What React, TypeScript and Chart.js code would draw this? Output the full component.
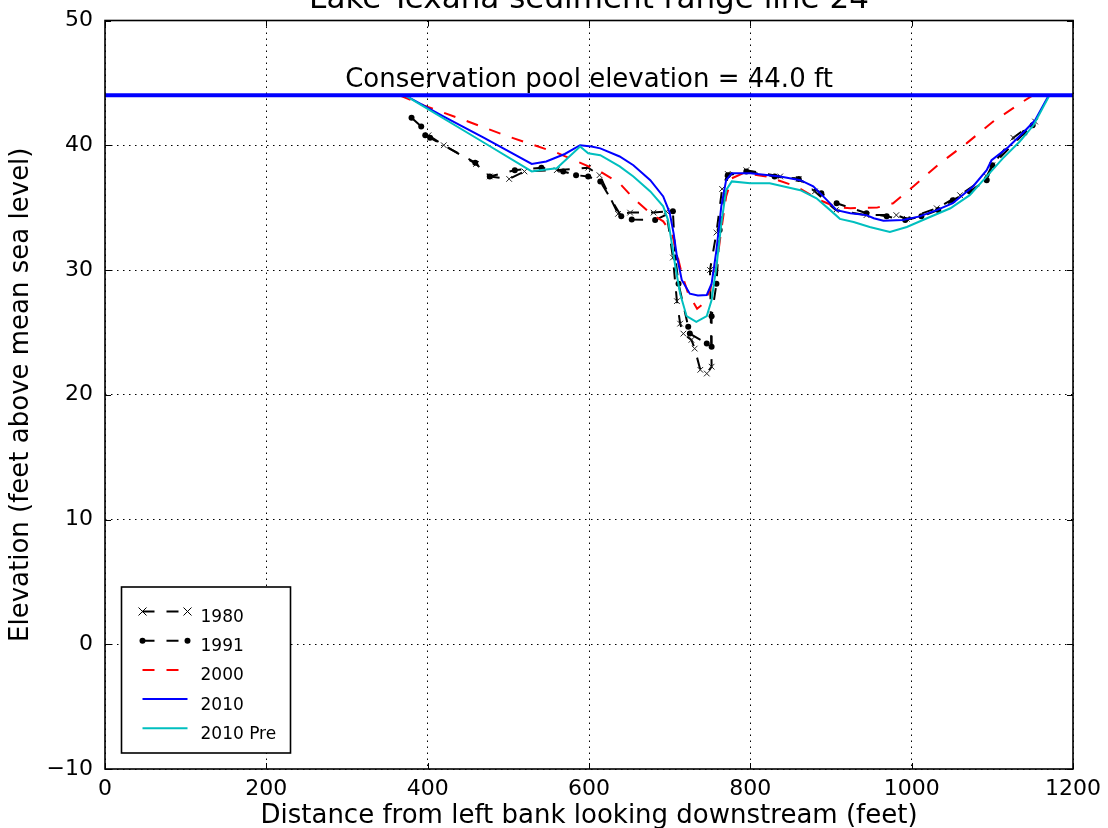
import React, { useEffect, useRef } from 'react';
import { Chart, registerables } from 'chart.js';

Chart.register(...registerables);

const FONT = "'DejaVu Sans', 'Liberation Sans', sans-serif";

const chartTitle = 'Lake Texana sediment range line 24';
const xAxisTitle = 'Distance from left bank looking downstream (feet)';
const yAxisTitle = 'Elevation (feet above mean sea level)';
const poolElevation = 44.0;
const poolLabel = `Conservation pool elevation = ${poolElevation.toFixed(1)} ft`;
const poolX = [0, 1200];

const xMin = 0;
const xMax = 1200;
const xStep = 200;
const yMin = -10;
const yMax = 50;
const yStep = 10;

const seriesLabels = ['1980', '1991', '2000', '2010', '2010 Pre'];

const x1980 = [401, 420, 460, 477, 501, 520, 560, 599, 613, 636, 651, 680, 696, 704, 709, 713, 717, 727, 731, 738, 746, 752, 750, 758, 765, 772, 795, 837, 860, 880, 906, 944, 981, 994, 1031, 1060, 1093, 1100, 1126, 1153];
const y1980 = [40.8, 40.0, 38.5, 37.5, 37.3, 37.9, 38.0, 38.2, 37.6, 34.5, 34.6, 34.6, 34.7, 31.0, 27.5, 25.7, 24.9, 24.4, 23.7, 22.0, 21.7, 22.25, 30.0, 33.0, 36.5, 37.7, 38.0, 37.5, 37.3, 36.3, 34.8, 34.4, 34.4, 34.1, 34.95, 36.0, 37.5, 38.4, 40.6, 41.9];

const x1991 = [380, 392, 397, 403, 459, 477, 508, 541, 568, 584, 599, 614, 640, 653, 682, 704, 707, 711, 723, 725, 746, 752, 752, 758, 762, 772, 795, 830, 860, 888, 907, 944, 969, 992, 1012, 1033, 1051, 1072, 1093, 1100, 1140, 1150];
const y1991 = [42.2, 41.5, 40.8, 40.6, 38.6, 37.5, 38.0, 38.2, 37.9, 37.6, 37.5, 37.1, 34.3, 34.05, 34.0, 34.7, 31.0, 28.9, 25.45, 24.9, 24.1, 23.85, 26.3, 28.9, 33.2, 37.6, 37.9, 37.5, 37.3, 36.15, 35.35, 34.55, 34.3, 34.0, 34.3, 34.8, 35.6, 36.3, 37.2, 38.4, 41.0, 41.6];

const x2000 = [365, 395, 450, 500, 560, 614, 638, 655, 676, 692, 703, 709, 715, 723, 734, 742, 750, 758, 764, 770, 777, 791, 820, 857, 886, 907, 924, 957, 977, 1002, 1035, 1068, 1101, 1138, 1150];
const y2000 = [44.0, 43.2, 41.9, 40.7, 39.4, 37.9, 36.95, 35.75, 34.55, 33.9, 32.9, 31.3, 29.7, 28.1, 26.9, 27.3, 28.4, 30.3, 33.2, 35.9, 37.35, 37.75, 37.5, 36.7, 35.6, 35.05, 34.95, 35.0, 35.35, 36.7, 38.55, 40.15, 41.9, 43.5, 44.0];

const x2010 = [372, 420, 470, 529, 547, 570, 589, 603, 614, 638, 655, 676, 692, 700, 705, 709, 715, 725, 735, 746, 752, 758, 764, 770, 777, 800, 837, 862, 878, 895, 907, 924, 944, 953, 965, 989, 1010, 1031, 1051, 1076, 1093, 1099, 1118, 1138, 1153, 1170];
const y2010 = [44.0, 42.3, 40.6, 38.5, 38.7, 39.3, 40.0, 39.9, 39.75, 39.1, 38.4, 37.2, 35.9, 34.6, 32.9, 31.1, 29.2, 28.1, 27.95, 28.0, 28.9, 31.6, 35.1, 37.2, 37.75, 37.75, 37.5, 37.2, 36.7, 35.6, 34.8, 34.55, 34.4, 34.15, 33.95, 34.0, 34.3, 34.8, 35.35, 36.7, 38.0, 38.8, 39.75, 41.0, 42.0, 44.0];

const x2010Pre = [372, 470, 529, 539, 560, 589, 599, 614, 638, 655, 676, 692, 698, 702, 707, 713, 721, 733, 746, 752, 758, 764, 770, 777, 800, 824, 862, 882, 899, 911, 928, 948, 973, 994, 1019, 1048, 1072, 1093, 1113, 1134, 1151, 1170];
const y2010Pre = [44.0, 40.2, 37.9, 38.0, 38.15, 39.9, 39.35, 39.2, 38.3, 37.5, 36.3, 35.1, 34.0, 32.4, 30.3, 28.1, 26.3, 25.85, 26.3, 27.6, 30.3, 33.7, 36.4, 37.1, 36.95, 36.95, 36.4, 35.75, 34.8, 34.1, 33.85, 33.45, 33.05, 33.45, 34.15, 34.95, 36.0, 37.5, 38.95, 40.3, 41.6, 43.9];

const pts = (xs: number[], ys: number[]) => xs.map((x, i) => ({ x, y: ys[i] }));

const DASH = [12, 12];

function drawMarker(ctx: CanvasRenderingContext2D, style: string, x: number, y: number, r: number) {
  if (style === 'crossRot') {
    ctx.save();
    ctx.strokeStyle = '#000';
    ctx.lineWidth = 1;
    ctx.setLineDash([]);
    ctx.beginPath();
    ctx.moveTo(x - r, y - r);
    ctx.lineTo(x + r, y + r);
    ctx.moveTo(x - r, y + r);
    ctx.lineTo(x + r, y - r);
    ctx.stroke();
    ctx.restore();
  } else if (style === 'circle') {
    ctx.save();
    ctx.fillStyle = '#000';
    ctx.beginPath();
    ctx.arc(x, y, r, 0, Math.PI * 2);
    ctx.fill();
    ctx.restore();
  }
}

const decorPlugin = {
  id: 'decor',
  afterDraw(chart: any) {
    const { ctx, chartArea } = chart;
    const { left, right, top, bottom } = chartArea;
    const xs = chart.scales.x;
    const ys = chart.scales.y;
    ctx.save();

    // inward tick marks
    ctx.strokeStyle = '#000';
    ctx.lineWidth = 1;
    ctx.setLineDash([]);
    const tl = 6;
    for (let v = xMin; v <= xMax; v += xStep) {
      const px = Math.round(xs.getPixelForValue(v)) + 0.5;
      ctx.beginPath();
      ctx.moveTo(px, bottom);
      ctx.lineTo(px, bottom - tl);
      ctx.moveTo(px, top);
      ctx.lineTo(px, top + tl);
      ctx.stroke();
    }
    for (let v = yMin; v <= yMax; v += yStep) {
      const py = Math.round(ys.getPixelForValue(v)) + 0.5;
      ctx.beginPath();
      ctx.moveTo(left, py);
      ctx.lineTo(left + tl, py);
      ctx.moveTo(right, py);
      ctx.lineTo(right - tl, py);
      ctx.stroke();
    }

    // frame
    ctx.lineWidth = 1.6;
    ctx.strokeRect(left, top, right - left, bottom - top);

    // title (clipped at the top edge as in the reference)
    ctx.fillStyle = '#000';
    ctx.font = `31px ${FONT}`;
    ctx.textAlign = 'center';
    ctx.textBaseline = 'alphabetic';
    ctx.fillText(chartTitle, (left + right) / 2, 8);

    // pool label
    ctx.font = `26px ${FONT}`;
    ctx.fillText(poolLabel, xs.getPixelForValue(600), ys.getPixelForValue(poolElevation) - 8);

    // legend
    const bx = left + 16.5;
    const bw = 169;
    const bh = 166;
    const by = bottom - 16 - bh;
    ctx.fillStyle = '#fff';
    ctx.fillRect(bx, by, bw, bh);
    ctx.strokeStyle = '#000';
    ctx.lineWidth = 1.6;
    ctx.strokeRect(bx, by, bw, bh);
    const datasets = chart.data.datasets.filter((d: any) => seriesLabels.includes(d.label));
    datasets.forEach((d: any, i: number) => {
      const baseY = by + 35 + i * 29.2;
      const ly = baseY - 10.5;
      const x1 = bx + 21;
      const x2 = bx + 66;
      ctx.save();
      ctx.strokeStyle = d.borderColor;
      ctx.lineWidth = d.borderWidth;
      ctx.setLineDash(d.borderDash || []);
      ctx.beginPath();
      ctx.moveTo(x1, ly);
      ctx.lineTo(x2, ly);
      ctx.stroke();
      ctx.restore();
      if (d.pointRadius > 0) {
        drawMarker(ctx, d.pointStyle, x1, ly, d.pointRadius);
        drawMarker(ctx, d.pointStyle, x2, ly, d.pointRadius);
      }
      ctx.fillStyle = '#000';
      ctx.font = `17px ${FONT}`;
      ctx.textAlign = 'left';
      ctx.textBaseline = 'alphabetic';
      ctx.fillText(d.label, bx + 79, baseY);
    });
    ctx.restore();
  },
};

export default function App() {
  const ref = useRef<HTMLCanvasElement | null>(null);

  useEffect(() => {
    if (!ref.current) return;
    const chart = new Chart(ref.current, {
      type: 'line',
      data: {
        datasets: [
          {
            label: '1980',
            data: pts(x1980, y1980),
            borderColor: '#000',
            backgroundColor: '#000',
            borderWidth: 2,
            borderDash: DASH,
            pointStyle: 'crossRot',
            pointRadius: 4,
            pointBorderWidth: 1,
            pointBorderColor: '#222',
            order: 6,
          },
          {
            label: '1991',
            data: pts(x1991, y1991),
            borderColor: '#000',
            backgroundColor: '#000',
            borderWidth: 2,
            borderDash: DASH,
            pointStyle: 'circle',
            pointRadius: 3,
            pointBorderWidth: 0,
            pointBackgroundColor: '#000',
            order: 5,
          },
          {
            label: '2000',
            data: pts(x2000, y2000),
            borderColor: '#ff0000',
            borderWidth: 2,
            borderDash: DASH,
            pointRadius: 0,
            order: 4,
          },
          {
            label: '2010',
            data: pts(x2010, y2010),
            borderColor: '#0000ff',
            borderWidth: 2,
            pointRadius: 0,
            order: 3,
          },
          {
            label: '2010 Pre',
            data: pts(x2010Pre, y2010Pre),
            borderColor: '#00bfbf',
            borderWidth: 2,
            pointRadius: 0,
            order: 2,
          },
          {
            label: 'Conservation pool',
            data: poolX.map((x) => ({ x, y: poolElevation })),
            borderColor: '#0000ff',
            borderWidth: 4,
            pointRadius: 0,
            order: 1,
          },
        ] as any,
      },
      options: {
        animation: false,
        responsive: false,
        devicePixelRatio: 1,
        parsing: false as any,
        layout: { padding: { top: 20.5, right: 35, left: 0, bottom: 0 } },
        plugins: {
          legend: { display: false },
          title: { display: false },
          tooltip: { enabled: false },
        },
        elements: { line: { tension: 0 } },
        scales: {
          x: {
            type: 'linear',
            min: xMin,
            max: xMax,
            afterFit: (s: any) => {
              s.height = 59;
              s.paddingLeft = 0;
              s.paddingRight = 0;
            },
            ticks: {
              stepSize: xStep,
              color: '#000',
              font: { family: FONT, size: 22 },
              padding: 7,
              maxRotation: 0,
              callback: (v: any) => String(v),
            },
            grid: { color: '#000', lineWidth: 1, drawTicks: false },
            border: { display: false, dash: [1.5, 4.5] },
            title: {
              display: true,
              text: xAxisTitle,
              color: '#000',
              font: { family: FONT, size: 26 },
              padding: { top: 0, bottom: -4 },
            },
          },
          y: {
            type: 'linear',
            min: yMin,
            max: yMax,
            afterFit: (s: any) => {
              s.width = 105;
              s.paddingTop = 0;
              s.paddingBottom = 0;
            },
            ticks: {
              stepSize: yStep,
              color: '#000',
              font: { family: FONT, size: 22 },
              padding: 12,
              callback: (v: any) => (v < 0 ? '\u2212' + Math.abs(v) : String(v)),
            },
            grid: { color: '#000', lineWidth: 1, drawTicks: false },
            border: { display: false, dash: [1.5, 4.5] },
            title: {
              display: true,
              text: yAxisTitle,
              color: '#000',
              font: { family: FONT, size: 26 },
              padding: { top: 6, bottom: 0 },
            },
          },
        },
      } as any,
      plugins: [decorPlugin],
    });
    return () => chart.destroy();
  }, []);

  return (
    <div style={{ position: 'fixed', left: 0, top: 0, width: 1108, height: 828, background: '#fff' }}>
      <canvas ref={ref} width={1108} height={828} style={{ display: 'block', width: 1108, height: 828 }} />
    </div>
  );
}
